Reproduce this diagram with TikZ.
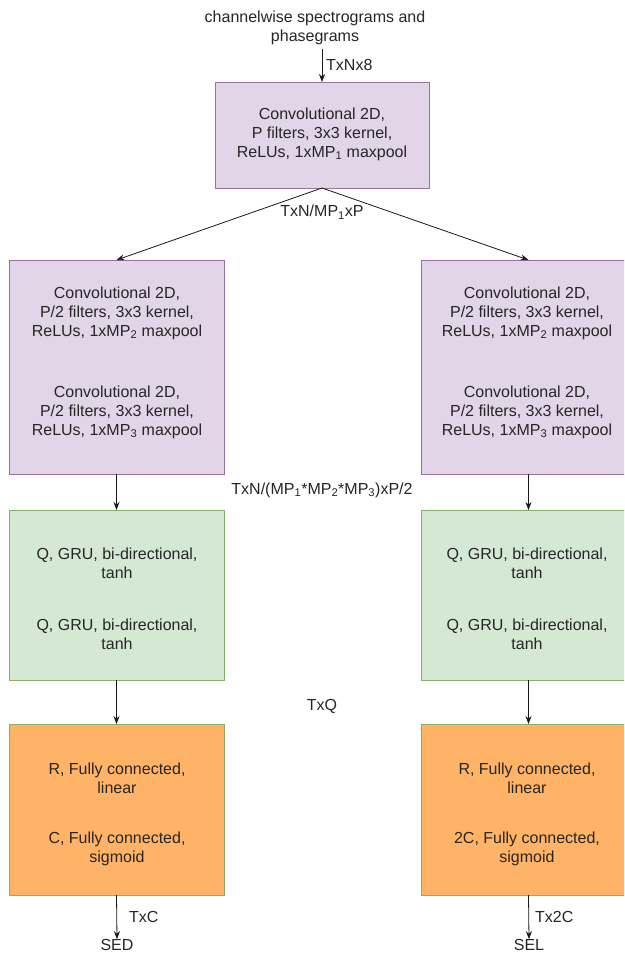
\documentclass[tikz,border=0pt]{standalone}
\usepackage{fontspec}
\setmainfont{Liberation Sans}
\usetikzlibrary{arrows.meta}
\definecolor{purpfill}{HTML}{E1D5E7}
\definecolor{purpline}{HTML}{9673A6}
\definecolor{greenfill}{HTML}{D5E8D4}
\definecolor{greenline}{HTML}{82B366}
\definecolor{orangefill}{HTML}{FFB366}
\begin{document}
\begin{tikzpicture}[x=1pt,y=-1pt,
  box/.style={draw, line width=0.9pt, inner sep=0pt, outer sep=0pt, anchor=north west, minimum width=215pt},
  purp/.style={box, fill=purpfill, draw=purpline},
  grn/.style={box, fill=greenfill, draw=greenline},
  org/.style={box, fill=orangefill, draw=greenline},
  txt/.style={font=\fontsize{16}{19}\selectfont, align=center, text=black!85, inner sep=0pt},
  arr/.style={-{Stealth[length=8pt,width=6pt]}, line width=0.8pt, draw=black!90}]
\useasboundingbox (0,0) rectangle (624,953);
\clip (0,0) rectangle (624,953);
\fill[white] (0,0) rectangle (624,953);

% input text
\node[txt] (inp) at (315,28) {channelwise spectrograms and\\phasegrams};
\coordinate (instart) at (322,49);

% top conv box
\node[purp, minimum width=214pt, minimum height=106pt] (top) at (215,82) {};
\node[txt] (ttop) at (322,134) {Convolutional 2D,\\P filters, 3x3 kernel,\\ReLUs, 1xMP\textsubscript{1} maxpool};

% second row purple boxes
\node[purp, minimum height=214pt] (lp) at (9,260) {};
\node[purp, minimum height=214pt] (rp) at (421,260) {};
\node[txt] (lp1) at (117,313) {Convolutional 2D,\\P/2 filters, 3x3 kernel,\\ReLUs, 1xMP\textsubscript{2} maxpool};
\node[txt] (lp2) at (117,412) {Convolutional 2D,\\P/2 filters, 3x3 kernel,\\ReLUs, 1xMP\textsubscript{3} maxpool};
\node[txt] (rp1) at (527,313) {Convolutional 2D,\\P/2 filters, 3x3 kernel,\\ReLUs, 1xMP\textsubscript{2} maxpool};
\node[txt] (rp2) at (527,412) {Convolutional 2D,\\P/2 filters, 3x3 kernel,\\ReLUs, 1xMP\textsubscript{3} maxpool};

% green boxes
\node[grn, minimum height=170pt] (lg) at (9,510) {};
\node[grn, minimum height=170pt] (rg) at (421,510) {};
\node[txt] (lg1) at (117,563) {Q, GRU, bi-directional,\\tanh};
\node[txt] (lg2) at (117,634) {Q, GRU, bi-directional,\\tanh};
\node[txt] (rg1) at (527,563) {Q, GRU, bi-directional,\\tanh};
\node[txt] (rg2) at (527,634) {Q, GRU, bi-directional,\\tanh};

% orange boxes
\node[org, minimum height=171pt] (lo) at (9,724) {};
\node[org, minimum height=171pt] (ro) at (421,724) {};
\node[txt] (lo1) at (117,778) {R, Fully connected,\\linear};
\node[txt] (lo2) at (117,849) {C, Fully connected,\\sigmoid};
\node[txt] (ro1) at (527,778) {R, Fully connected,\\linear};
\node[txt] (ro2) at (527,849) {2C, Fully connected,\\sigmoid};

% outputs
\node[txt] (sed) at (117,945) {SED};
\node[txt] (sel) at (529,945) {SEL};

% dimension labels
\node[txt, anchor=west] (l0) at (326,65) {TxNx8};
\node[txt] (l1) at (322,212) {TxN/MP\textsubscript{1}xP};
\node[txt] (l2) at (322,490) {TxN/(MP\textsubscript{1}*MP\textsubscript{2}*MP\textsubscript{3})xP/2};
\node[txt] (l3) at (322,706) {TxQ};
\node[txt, anchor=west] (l4) at (129,917) {TxC};
\node[txt, anchor=west] (l5) at (535,917) {Tx2C};

% connectors
\draw[arr] (instart) -- (top.north);
\draw[arr] (top.south) -- (lp.north);
\draw[arr] (top.south) -- (rp.north);
\draw[arr] (lp.south) -- (lg.north);
\draw[arr] (rp.south) -- (rg.north);
\draw[arr] (lg.south) -- (lo.north);
\draw[arr] (rg.south) -- (ro.north);
\draw[arr] (lo.south) -- (sed.north);
\draw[arr] (ro.south) -- (sel.north);
\end{tikzpicture}
\end{document}
